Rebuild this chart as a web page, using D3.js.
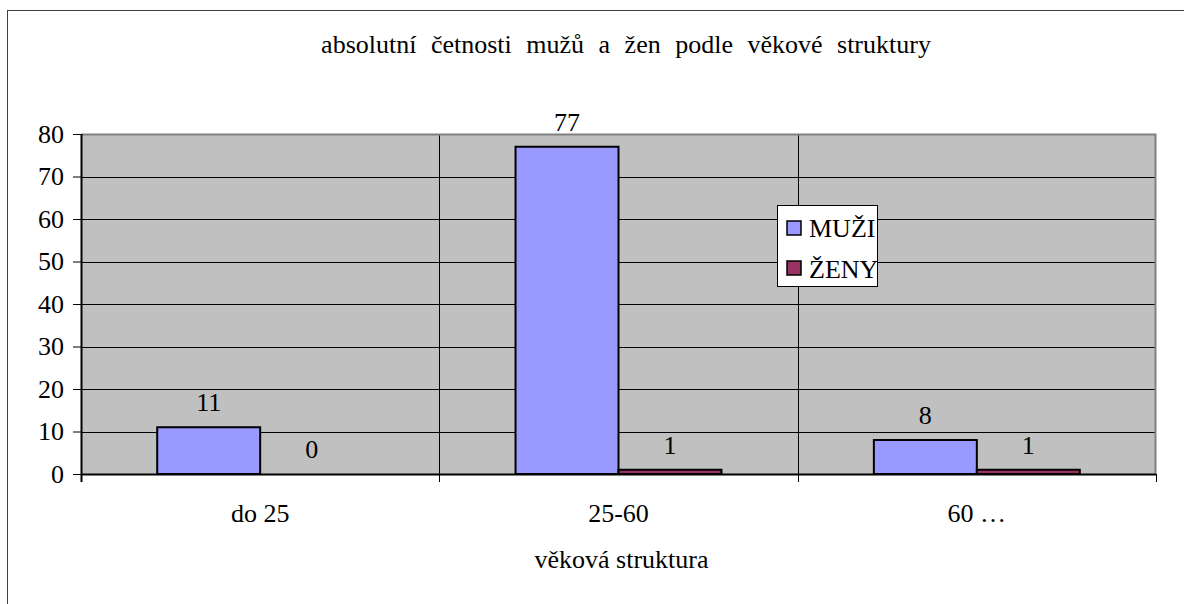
<!DOCTYPE html>
<html>
<head>
<meta charset="utf-8">
<script src="https://cdn.jsdelivr.net/npm/d3@7"></script>
<style>
  body { margin: 0; background: #fff; }
  text { font-family: "Liberation Serif", "Times New Roman", serif; fill: #000; }
</style>
</head>
<body>
<div id="content"></div>
<script>
// chart data
var categories = ["do 25", "25-60", "60 …"]
var seriesNames = ["MUŽI", "ŽENY"]
var muzi = [11, 77, 8]
var zeny = [0, 1, 1]
var yTicks = [0, 10, 20, 30, 40, 50, 60, 70, 80]
var seriesColors = ["#9999ff", "#993366"]

var svgwidth = 1184
var svgheight = 604
var margin = {top: 134, right: 28, bottom: 130, left: 81}
var width = svgwidth - margin.left - margin.right
var height = svgheight - margin.top - margin.bottom
var fontSize = "26px"

var svg = d3.select("#content").append("svg")
  .attr("width", svgwidth)
  .attr("height", svgheight)

// outer chart frame
svg.append("rect")
  .attr("x", 7.5).attr("y", 10.5)
  .attr("width", svgwidth).attr("height", svgheight)
  .attr("fill", "none")
  .style("stroke", "#404040")
  .style("stroke-width", 1)

var x = d3.scaleBand()
  .domain(categories)
  .range([0, width])

var xInner = d3.scaleBand()
  .domain(seriesNames)
  .range([0, x.bandwidth()])
  .paddingOuter(0.74)
  .paddingInner(0)

var yScale = d3.scaleLinear()
  .domain([0, 80])
  .range([height, 0])

var g = svg.append("g").attr("transform", "translate(" + margin.left + "," + margin.top + ")")

// plot area background
g.append("rect")
  .attr("width", width).attr("height", height)
  .attr("fill", "#c0c0c0")

// horizontal gridlines
g.selectAll(".grid")
  .data(yTicks.filter(function(d) { return d > 0 && d < 80 }))
  .enter().append("line")
  .attr("x1", 0).attr("x2", width)
  .attr("y1", function(d) { return Math.round(yScale(d)) + 0.5 })
  .attr("y2", function(d) { return Math.round(yScale(d)) + 0.5 })
  .style("stroke", "#000")
  .style("stroke-width", 1)

// vertical category dividers
g.selectAll(".vdiv")
  .data(categories.slice(1))
  .enter().append("line")
  .attr("x1", function(d) { return Math.round(x(d)) + 0.5 })
  .attr("x2", function(d) { return Math.round(x(d)) + 0.5 })
  .attr("y1", 0).attr("y2", height + 8)
  .style("stroke", "#000")
  .style("stroke-width", 1)

// plot border (top and right, gray)
g.append("path")
  .attr("d", "M0,0.5H" + (width - 0.5) + "V" + height)
  .attr("fill", "none")
  .style("stroke", "#808080")
  .style("stroke-width", 2)

// bars
var groups = g.selectAll(".cat")
  .data(categories)
  .enter().append("g")
  .attr("transform", function(d) { return "translate(" + x(d) + ",0)" })

var allSeries = [muzi, zeny]
groups.each(function(cat, ci) {
  var grp = d3.select(this)
  seriesNames.forEach(function(s, si) {
    var v = allSeries[si][ci]
    if (v > 0) {
      grp.append("rect")
        .attr("x", xInner(s))
        .attr("y", yScale(v))
        .attr("width", xInner.bandwidth())
        .attr("height", height - yScale(v))
        .attr("fill", seriesColors[si])
        .style("stroke", "#000")
        .style("stroke-width", 2)
    }
    grp.append("text")
      .attr("x", xInner(s) + xInner.bandwidth() / 2)
      .attr("y", yScale(v) - 16)
      .attr("text-anchor", "middle")
      .style("font-size", fontSize)
      .text(v)
  })
})

// y axis
var yAxis = g.append("g")
  .call(d3.axisLeft(yScale).tickValues(yTicks).tickSize(8).tickPadding(9).tickFormat(d3.format("d")))
yAxis.select(".domain").attr("d", "M0.5,0V" + (height + 8)).style("stroke", "#000").style("stroke-width", 2)
yAxis.selectAll(".tick line").style("stroke", "#000")
yAxis.selectAll("text").style("font-size", fontSize)

// x axis
var xAxisG = g.append("g").attr("transform", "translate(0," + height + ")")
xAxisG.append("line")
  .attr("x1", 0).attr("x2", width)
  .attr("y1", 0.5).attr("y2", 0.5)
  .style("stroke", "#000").style("stroke-width", 2)
xAxisG.selectAll(".xt")
  .data(categories.concat(["end"]))
  .enter().append("line")
  .attr("x1", function(d, i) { return Math.round(i * x.step()) + 0.5 })
  .attr("x2", function(d, i) { return Math.round(i * x.step()) + 0.5 })
  .attr("y1", 0).attr("y2", 8)
  .style("stroke", "#000")
xAxisG.selectAll(".xl")
  .data(categories)
  .enter().append("text")
  .attr("x", function(d) { return x(d) + x.bandwidth() / 2 })
  .attr("y", 48)
  .attr("text-anchor", "middle")
  .style("font-size", fontSize)
  .text(function(d) { return d })

// axis title
svg.append("text")
  .attr("x", margin.left + width / 2 + 3)
  .attr("y", 568)
  .attr("text-anchor", "middle")
  .style("font-size", fontSize)
  .text("věková struktura")

// chart title
svg.append("text")
  .attr("x", 626)
  .attr("y", 53)
  .attr("text-anchor", "middle")
  .style("font-size", fontSize)
  .style("word-spacing", "8px")
  .text("absolutní četnosti mužů a žen podle věkové struktury")

// legend
var legend = svg.append("g").attr("transform", "translate(777,205)")
legend.append("rect")
  .attr("x", 0.5).attr("y", 0.5)
  .attr("width", 100).attr("height", 81)
  .attr("fill", "#fff")
  .style("stroke", "#000")
  .style("stroke-width", 1)
seriesNames.forEach(function(s, i) {
  legend.append("rect")
    .attr("x", 10).attr("y", 16 + i * 40)
    .attr("width", 14).attr("height", 14)
    .attr("fill", seriesColors[i])
    .style("stroke", "#000")
    .style("stroke-width", 1.5)
  legend.append("text")
    .attr("x", 32).attr("y", 32 + i * 41)
    .style("font-size", fontSize)
    .text(s)
})
</script>
</body>
</html>
